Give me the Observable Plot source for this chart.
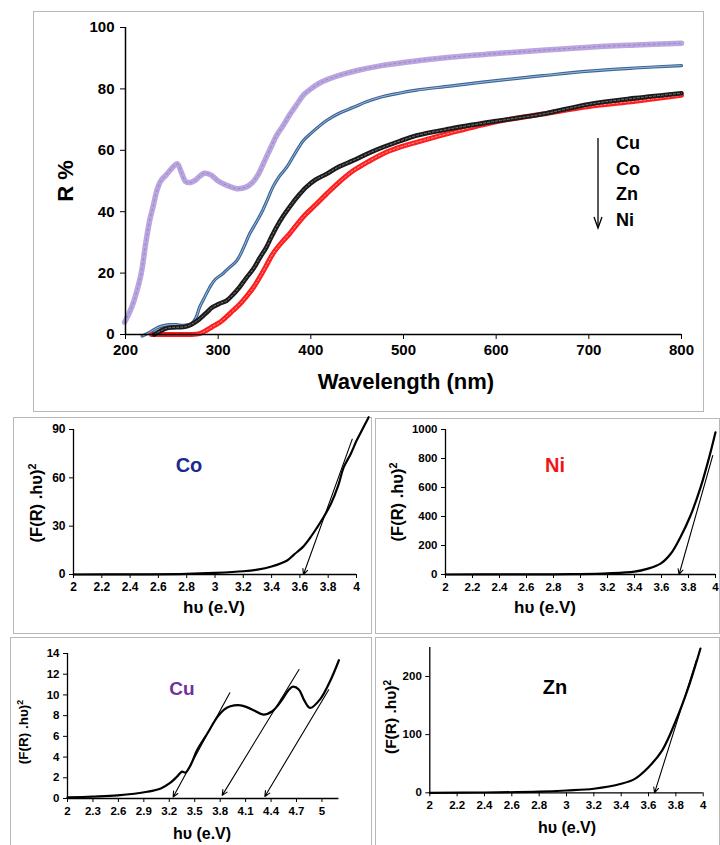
<!DOCTYPE html>
<html><head><meta charset="utf-8">
<script src="https://cdn.jsdelivr.net/npm/d3@7"></script>
<script src="https://cdn.jsdelivr.net/npm/@observablehq/plot@0.6"></script>
<style>
body{margin:0;background:#fff;}
#page{position:relative;width:720px;height:845px;overflow:hidden;font-family:"Liberation Sans",Arial,sans-serif;font-weight:bold;color:#000;background:#fff;}
.box{position:absolute;border:1.5px solid #b8b8b8;box-sizing:border-box;}
.svgwrap{position:absolute;}
.txt{position:absolute;white-space:nowrap;transform:translate(-50%,-50%);line-height:1;}
.rot{transform:translate(-50%,-50%) rotate(-90deg);}
sup{font-size:0.65em;vertical-align:0.55em;line-height:0;}
</style></head><body><div id="page"></div>
<script>
// ---------- Top chart: diffuse reflectance ----------
const topXTicks = [200, 300, 400, 500, 600, 700, 800];
const topYTicks = [0, 20, 40, 60, 80, 100];
const legendLabels = ["Cu", "Co", "Zn", "Ni"];

const cuR = [[199,4],[204,7],[208,10],[213,15],[217,20],[222,30],[226,37],[230,42],[234,47],[238,50],[244,52],[251,54.5],[256,55.6],[260,53],[265,49.8],[270,49.5],[275,50.2],[280,51.5],[285,52.5],[292,52],[300,50],[310,48.5],[320,47.5],[330,48],[337,49.5],[343,52],[350,56.5],[357,61],[363,64.8],[370,68],[377,71.5],[385,75],[392,78],[400,80],[410,82],[420,83.3],[435,84.8],[450,86],[475,87.5],[500,88.6],[550,90.3],[600,91.5],[650,92.6],[700,93.6],[750,94.3],[800,94.9]];
const coR = [[218,-0.5],[225,0.5],[233,2],[240,2.8],[248,3.2],[255,3.2],[262,3],[271,3.5],[276,5.5],[280,8.9],[286,12.5],[291,15.4],[297,18],[305,19.8],[312,21.8],[320,24],[327,28],[334,32.8],[341,36.5],[348,40.4],[354,44.5],[359,48],[366,51.5],[374,54.5],[383,59],[392,63.2],[400,65.5],[417,69.7],[430,72],[446,74],[460,75.8],[475,77.3],[495,78.6],[514,79.6],[550,80.9],[600,82.7],[650,84.3],[700,85.8],[750,86.8],[800,87.6]];
const znR = [[231,0],[238,1.2],[244,2],[251,2.3],[258,2.4],[264,2.5],[269,3],[275,4],[280,5.1],[287,7],[294,8.9],[301,10],[309,11],[316,13],[323,15.4],[330,18.3],[338,21.4],[345,25],[352,28.4],[357,31.5],[363,35],[370,38.5],[377,41.5],[386,45],[395,48],[405,50.4],[417,52.3],[430,54.6],[446,56.7],[462,59],[478,61],[496,63],[514,64.8],[550,67],[600,69.5],[650,71.8],[700,75],[750,77],[800,78.6]];
const niR = [[228,0],[240,0],[250,0],[260,0],[270,0],[280,0.3],[287,1.3],[294,2.6],[302,4],[309,5.8],[316,7.8],[323,9.8],[330,12.2],[338,15.3],[345,18.7],[352,22.5],[359,26.3],[368,29.8],[377,32.8],[386,36.2],[395,39.3],[406,42.5],[417,45.8],[430,49.5],[446,53.4],[462,56.3],[478,58.9],[496,61],[514,62.6],[550,65.6],[600,69.3],[650,71.8],[700,74.3],[750,76],[800,77.9]];

// ---------- Tauc plots ----------
const coXTicks = [2,2.2,2.4,2.6,2.8,3,3.2,3.4,3.6,3.8,4];
const coYTicks = [0,30,60,90];
const coCurve = [[2,0],[2.4,0.1],[2.8,0.4],[3.0,1],[3.2,2],[3.3,3],[3.4,5],[3.51,8.7],[3.56,12.5],[3.62,17],[3.67,22.5],[3.72,29],[3.77,36],[3.82,44],[3.87,55],[3.91,66.6],[3.96,75],[4.0,83],[4.086,97.6]];
const coTangent = [[3.97,84,3.625,0]];

const niXTicks = [2,2.2,2.4,2.6,2.8,3,3.2,3.4,3.6,3.8,4];
const niYTicks = [0,200,400,600,800,1000];
const niCurve = [[2,0],[2.5,0.5],[2.8,1.5],[3.0,3],[3.2,8],[3.4,20],[3.494,39],[3.59,73],[3.67,145],[3.74,257],[3.815,407],[3.89,602],[3.96,832],[4.0,981]];
const niTangent = [[3.98,821,3.73,0]];

const cuXTicks = [2,2.3,2.6,2.9,3.2,3.5,3.8,4.1,4.4,4.7,5];
const cuYTicks = [0,2,4,6,8,10,12,14];
const cuCurve = [[2,0.1],[2.3,0.18],[2.59,0.3],[2.94,0.65],[3.1,0.97],[3.21,1.5],[3.29,2.1],[3.35,2.6],[3.39,2.5],[3.45,3.2],[3.53,4.7],[3.65,6.3],[3.77,7.9],[3.85,8.6],[3.92,8.9],[4.04,9.0],[4.12,8.8],[4.2,8.5],[4.31,8.1],[4.41,8.4],[4.51,9.3],[4.61,10.5],[4.66,10.8],[4.73,10.5],[4.79,9.5],[4.86,8.75],[4.98,9.6],[5.1,11.4],[5.2,13.35]];
const cuTangents = [[3.914,10.2,3.246,0.15],[4.73,12.45,3.824,0.3],[5.08,10.5,4.327,0.2]];

const znXTicks = [2,2.2,2.4,2.6,2.8,3,3.2,3.4,3.6,3.8,4];
const znYTicks = [0,100,200];
const znCurve = [[2,0],[2.4,0.5],[2.8,2],[3.0,4],[3.2,7],[3.4,15.5],[3.5,24],[3.6,44],[3.7,73],[3.8,124],[3.9,187],[3.98,248]];
const znTangent = [[3.95,228,3.644,0]];

const page = document.getElementById("page");
const rows = a => a.map(([x, y]) => ({x, y}));
const segs = a => a.map(([x1, y1, x2, y2]) => ({x1, y1, x2, y2}));

function addBox(l, t, w, h) {
  const d = document.createElement("div");
  d.className = "box";
  Object.assign(d.style, {left: l + "px", top: t + "px", width: w + "px", height: h + "px"});
  page.appendChild(d);
}
function addText(html, x, y, size, color, rotate) {
  const d = document.createElement("div");
  d.className = "txt" + (rotate ? " rot" : "");
  d.innerHTML = html;
  Object.assign(d.style, {left: x + "px", top: y + "px", fontSize: size + "px", color: color || "#000"});
  page.appendChild(d);
}
function addSvg(svg, l, t) {
  const d = document.createElement("div");
  d.className = "svgwrap";
  d.style.left = l + "px"; d.style.top = t + "px";
  d.appendChild(svg);
  page.appendChild(d);
}
const baseStyle = s => `font-family:'Liberation Sans',Arial,sans-serif;font-weight:bold;font-size:${s}px;color:#000;background:transparent;overflow:visible;`;

// ---- top chart ----
addBox(33, 11, 671, 401);
const topSvg = Plot.plot({
  width: 671, height: 401,
  marginLeft: 92, marginRight: 23, marginTop: 16, marginBottom: 78,
  style: baseStyle(15),
  x: {domain: [200, 800], ticks: topXTicks, tickSize: 5, tickPadding: 5, label: null, tickFormat: d => String(d)},
  y: {domain: [0, 100], ticks: topYTicks, tickSize: 5, tickPadding: 6, label: null, tickFormat: d => String(d)},
  marks: [
    Plot.line(rows(cuR), {x: "x", y: "y", stroke: "#b9a6de", strokeWidth: 5.5, curve: "catmull-rom"}),
    Plot.line(rows(cuR), {x: "x", y: "y", stroke: "#9a80c8", strokeWidth: 1, strokeDasharray: "2,3", curve: "catmull-rom"}),
    Plot.line(rows(coR), {x: "x", y: "y", stroke: "#3a6496", strokeWidth: 3.2, curve: "catmull-rom"}),
    Plot.line(rows(coR), {x: "x", y: "y", stroke: "#a9c2e0", strokeWidth: 0.9, curve: "catmull-rom"}),
    Plot.line(rows(niR), {x: "x", y: "y", stroke: "#ff1e1e", strokeWidth: 5, curve: "catmull-rom"}),
    Plot.line(rows(niR), {x: "x", y: "y", stroke: "#ff9a9a", strokeWidth: 1, strokeDasharray: "2,2", curve: "catmull-rom"}),
    Plot.line(rows(znR), {x: "x", y: "y", stroke: "#1a1a1a", strokeWidth: 4.6, curve: "catmull-rom"}),
    Plot.line(rows(znR), {x: "x", y: "y", stroke: "#7a7a7a", strokeWidth: 1, strokeDasharray: "2,2", curve: "catmull-rom"}),
    Plot.ruleY([0], {stroke: "#000", strokeWidth: 1.5}),
    Plot.ruleX([200], {stroke: "#000", strokeWidth: 1.5})
  ]
});
addSvg(topSvg, 33, 11);
addText("Wavelength (nm)", 406, 382, 22);
addText("R %", 66, 181, 22, "#000", true);
// legend
const leg = document.createElementNS("http://www.w3.org/2000/svg", "svg");
leg.setAttribute("width", 14); leg.setAttribute("height", 94);
leg.innerHTML = '<line x1="7" y1="1" x2="7" y2="90" stroke="#000" stroke-width="1.3"/><path d="M3,80 L7,91 L11,80" fill="none" stroke="#000" stroke-width="1.3"/>';
addSvg(leg, 591, 137);
legendLabels.forEach((s, i) => {
  const d = document.createElement("div");
  d.className = "txt";
  d.textContent = s;
  Object.assign(d.style, {left: "616px", top: (143 + i * 25.7) + "px", fontSize: "18px", transform: "translate(0,-50%)"});
  page.appendChild(d);
});

// ---- Tauc panel helper ----
function tauc(o) {
  addBox(o.bl, o.bt, o.bw, o.bh);
  const svg = Plot.plot({
    width: o.w, height: o.h,
    marginLeft: o.ml, marginRight: o.mr, marginTop: o.mt, marginBottom: o.mb,
    style: baseStyle(o.fs),
    x: {domain: o.xdom, ticks: o.xticks, tickSize: 4, tickPadding: 4, label: null, tickFormat: d => String(d)},
    y: {domain: o.ydom, ticks: o.yticks, tickSize: 4, tickPadding: 4, label: null, tickFormat: d => String(d)},
    marks: [
      Plot.line(rows(o.curve), {x: "x", y: "y", stroke: "#000", strokeWidth: 2.2, curve: "catmull-rom"}),
      Plot.arrow(segs(o.tan), {x1: "x1", y1: "y1", x2: "x2", y2: "y2", stroke: "#000", strokeWidth: 1.1, headLength: 8, headAngle: 50}),
      Plot.ruleY([o.ydom[0]], {stroke: "#000", strokeWidth: 1.3}),
      Plot.ruleX([o.xdom[0]], {stroke: "#000", strokeWidth: 1.3})
    ]
  });
  addSvg(svg, o.sl, o.st);
  addText(o.name, o.nx, o.ny, o.nfs, o.color);
  addText("(F(R) .h\u03c5)<sup>2</sup>", o.yx, o.yy, o.yfs, "#000", true);
  addText("h\u03c5 (e.V)", o.xx, o.xy, o.xfs);
}

tauc({bl: 13, bt: 417, bw: 359, bh: 217, sl: 13, st: 417, w: 359, h: 216, ml: 60, mr: 16, mt: 12, mb: 59, fs: 12,
  xdom: [2, 4], xticks: coXTicks, ydom: [0, 90], yticks: coYTicks, curve: coCurve, tan: coTangent,
  name: "Co", nx: 189, ny: 465, nfs: 20, color: "#1b2a8f", yx: 36, yy: 503, yfs: 16.5, xx: 214, xy: 607, xfs: 17});
tauc({bl: 375, bt: 418, bw: 345, bh: 216, sl: 375, st: 418, w: 343, h: 215, ml: 70, mr: 3, mt: 11, mb: 59, fs: 11.5,
  xdom: [2, 4], xticks: niXTicks, ydom: [0, 1000], yticks: niYTicks, curve: niCurve, tan: niTangent,
  name: "Ni", nx: 555, ny: 465, nfs: 20, color: "#f01414", yx: 397, yy: 502, yfs: 16.5, xx: 545, xy: 607, xfs: 17});
tauc({bl: 10, bt: 637, bw: 362, bh: 212, sl: 10, st: 637, w: 362, h: 210, ml: 57, mr: 33.6, mt: 16, mb: 49, fs: 11.5,
  xdom: [2, 5.2], xticks: cuXTicks, ydom: [0, 14], yticks: cuYTicks, curve: cuCurve, tan: cuTangents,
  name: "Cu", nx: 182, ny: 688, nfs: 19, color: "#7030a0", yx: 24, yy: 732, yfs: 13.5, xx: 202, xy: 834, xfs: 16});
tauc({bl: 375, bt: 637, bw: 345, bh: 212, sl: 375, st: 637, w: 343, h: 210, ml: 54.3, mr: 15.3, mt: 9.9, mb: 54.7, fs: 11.5,
  xdom: [2, 4], xticks: znXTicks, ydom: [0, 250], yticks: znYTicks, curve: znCurve, tan: znTangent,
  name: "Zn", nx: 555, ny: 687, nfs: 20, color: "#000", yx: 391, yy: 717, yfs: 15.5, xx: 567, xy: 828, xfs: 16});
</script></body></html>
